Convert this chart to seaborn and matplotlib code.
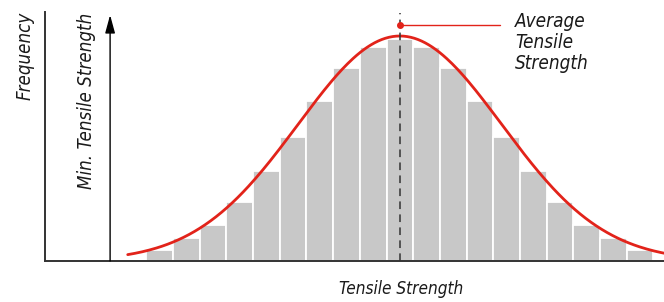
import numpy as np
import pandas as pd
import matplotlib.pyplot as plt
import seaborn as sns

# bar heights (19 bins, symmetric around the average)
bin_centers = [41, 42, 43, 44, 45, 46, 47, 48, 49, 50, 51, 52, 53, 54, 55, 56, 57, 58, 59]
frequency = [11, 23, 36, 59, 90, 124, 160, 193, 214, 222, 214, 193, 160, 124, 90, 59, 36, 23, 11]

# fitted normal curve parameters
avg_strength = 50
std_strength = 3.82
curve_peak = 225
curve_start = 39.8

min_strength = 39.14

sns.set_style('white')
plt.rcParams['font.family'] = ['DejaVu Sans']

fig = plt.figure(figsize=(6.64, 3.02), dpi=100)
ax = fig.add_axes([45 / 664, 41 / 302, 619 / 664, 249 / 302])

df = pd.DataFrame({'strength': bin_centers, 'freq': frequency})
sns.histplot(data=df, x='strength', weights='freq', binwidth=1,
             binrange=(bin_centers[0] - 0.5, bin_centers[-1] + 0.5), ax=ax,
             color='#c8c8c8', edgecolor='white', linewidth=1.3, alpha=1)

# normal curve
xs = np.linspace(curve_start, 60, 300)
ys = curve_peak * np.exp(-(xs - avg_strength) ** 2 / (2 * std_strength ** 2))
sns.lineplot(x=xs, y=ys, ax=ax, color='#e2231a', linewidth=2.0)

# average marker
ax.plot([avg_strength, avg_strength], [0, 248], color='#333333', lw=1.1,
        ls=(0, (5, 3.5)), zorder=3)
ax.plot([avg_strength, 53.75], [236, 236], color='#e2231a', lw=1.0, zorder=4)
ax.plot(avg_strength, 236, 'o', color='#e2231a', ms=4, zorder=5)

# min tensile strength arrow
ax.annotate('', xy=(min_strength, 246), xytext=(min_strength, 0),
            arrowprops=dict(arrowstyle='-|>,head_length=1.1,head_width=0.3',
                            color='black', lw=1.0, shrinkA=0, shrinkB=0))

ax.set_xlim(36.7, 59.9)
ax.set_ylim(0, 249)
ax.set_xticks([])
ax.set_yticks([])
ax.set_xlabel('')
ax.set_ylabel('')
sns.despine(ax=ax)
for s in ['left', 'bottom']:
    ax.spines[s].set_color('#333333')
    ax.spines[s].set_linewidth(1.4)

txt = dict(style='italic', color='#1a1a1a', stretch='condensed')
fig.text(401 / 664, 1 - 289 / 302, 'Tensile Strength', ha='center', va='center',
         fontsize=12.3, **txt)
fig.text(25 / 664, 1 - 12 / 302, 'Frequency', rotation=90, ha='center', va='top',
         fontsize=13.4, **txt)
fig.text(87 / 664, 1 - 13 / 302, 'Min. Tensile Strength', rotation=90, ha='center', va='top',
         fontsize=13.4, **txt)
fig.text(515 / 664, 1 - 12 / 302, 'Average\nTensile\nStrength', ha='left', va='top',
         fontsize=13.6, linespacing=1.13, **txt)

fig.savefig('out.png', dpi=100)
